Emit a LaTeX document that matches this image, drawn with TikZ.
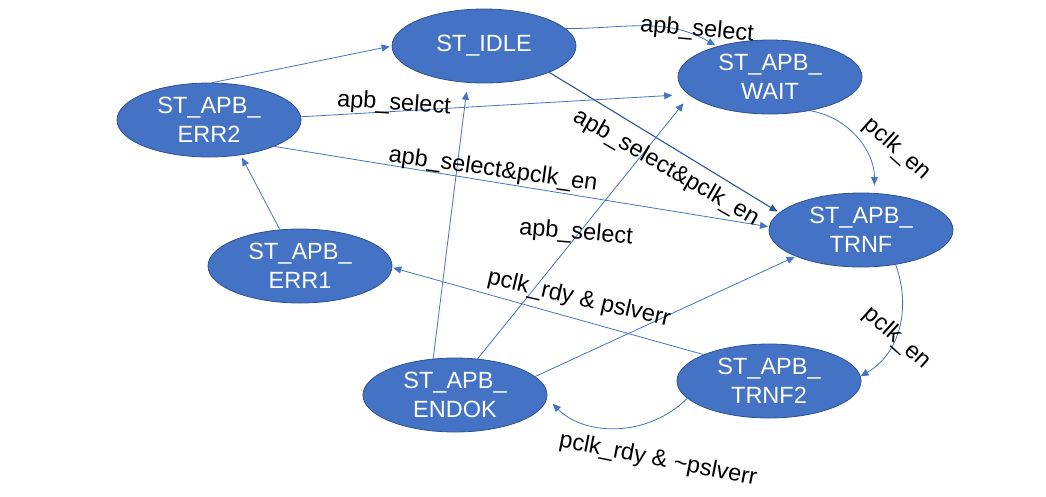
\documentclass[tikz,border=0pt]{standalone}
\usepackage{fontspec}
\setmainfont{Liberation Sans}
\usepackage{tikz}
\usetikzlibrary{shapes.geometric,arrows.meta}
\definecolor{stfill}{HTML}{4472C4}
\definecolor{stborder}{HTML}{2F528F}
\definecolor{edgedark}{HTML}{2F5597}
\tikzset{fsm/.style={ellipse, fill=stfill, draw=stborder, line width=0.8pt, minimum width=184pt, minimum height=74pt, inner sep=0pt, text=white, align=center, font=\fontsize{23.5}{28.5}\selectfont}}
\tikzset{trans/.style={draw=stfill, line width=0.8pt, -{Triangle[length=8pt,width=7pt]}, shorten >=2pt}}
\tikzset{lbl/.style={font=\fontsize{23.5}{28}\selectfont, inner sep=0pt}}

\begin{document}
\begin{tikzpicture}[x=1pt,y=-1pt]
    \useasboundingbox (0,0) rectangle (1046,496);

    \node[fsm] at (484,46) (idle){ST\_IDLE};
    \node[fsm] at (770,77) (wait){ST\_APB\_\\WAIT};
    \node[fsm] at (209,120) (err2){ST\_APB\_\\ERR2};
    \node[fsm] at (861,230) (trnf){ST\_APB\_\\TRNF};
    \node[fsm] at (300,266) (err1){ST\_APB\_\\ERR1};
    \node[fsm] at (455,395) (endok){ST\_APB\_\\ENDOK};
    \node[fsm] at (769,381) (trnf2){ST\_APB\_\\TRNF2};

    \draw[trans] (err2.85) -- (idle.180);
    \draw[trans, shorten >=16pt] (err2.2) -- (wait.192);
    \draw[trans, shorten >=1pt] (err2.-22) -- (trnf.178);
    \draw[trans] (idle.12) to[out=0,in=150] (wait.150);
    \draw[trans, draw=edgedark, line width=1.1pt] (idle.-22) -- (trnf.168);
    \draw[trans, shorten >=8pt] (wait.-40) to[out=-10,in=90] (trnf.70);
    \draw[trans, shorten >=0pt] (trnf.-45) to[out=-70,in=30] (trnf2.3);
    \draw[trans, shorten >=8pt] (trnf2.192) to[out=-135,in=-45] (endok.-2);
    \draw[trans, shorten >=1pt] (trnf2.158) -- (err1.-1);
    \draw[trans, shorten >=1pt] (endok.13) -- (trnf.202);
    \draw[trans, shorten >=10pt] (endok.58) -- (wait.193);
    \draw[trans, shorten >=9pt] (endok.121) -- (idle.246);
    \draw[trans, shorten >=3pt] (err1.119) -- (err2.-48);

    \node[lbl, rotate=-4] at (394,104) (selwait){apb\_select};
    \node[lbl, rotate=-8] at (493,170) (seltrnf){apb\_select\&pclk\_en};
    \node[lbl, rotate=-5] at (697,30) (selidle){apb\_select};
    \node[lbl, rotate=-30] at (666,168) (selidletrnf){apb\_select\&pclk\_en};
    \node[lbl, rotate=-42] at (897,149) (enwait){pclk\_en};
    \node[lbl, rotate=-5] at (576,233) (selendok){apb\_select};
    \node[lbl, rotate=-13] at (579,299) (rdyerr){pclk\_rdy \& pslverr};
    \node[lbl, rotate=-42] at (897,338) (entrnf){pclk\_en};
    \node[lbl, rotate=-11] at (658,460) (rdyok){pclk\_rdy \& \textasciitilde pslverr};
\end{tikzpicture}
\end{document}
